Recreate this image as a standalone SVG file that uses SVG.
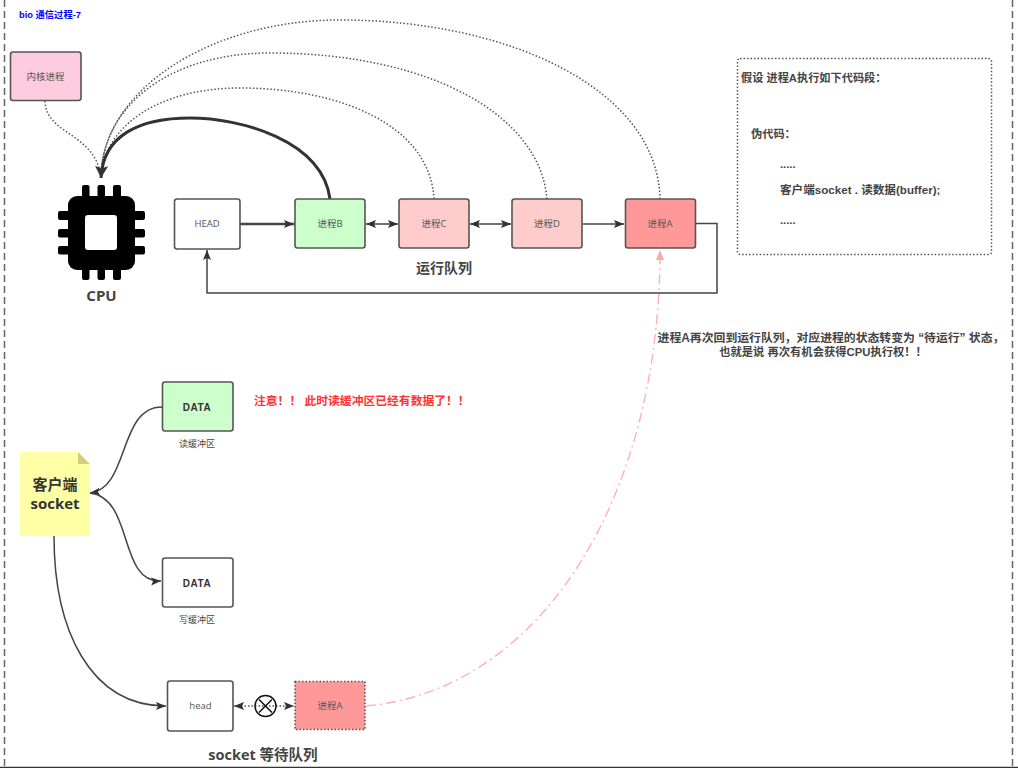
<svg xmlns="http://www.w3.org/2000/svg" width="1018" height="768" viewBox="0 0 1018 768">
<style>
  text { font-family: "Liberation Sans", "Noto Sans CJK SC", sans-serif; fill: #333; }
  .box { stroke: #555; stroke-width: 1.6; }
  .lbl { font-family: "Open Sans", "Noto Sans CJK SC", sans-serif; font-size: 9.5px; text-anchor: middle; fill: #555; }
  .data { font-size: 10px; font-weight: 700; text-anchor: middle; letter-spacing: .5px; }
  .cap { font-size: 9px; text-anchor: middle; fill: #444; }
  .h { font-family: "Open Sans", "Noto Sans CJK SC", sans-serif; font-size: 14px; font-weight: 700; text-anchor: middle; fill: #444; }
  .code { font-size: 11.2px; font-weight: 700; fill: #444; }
  .note { font-weight: 700; fill: #444; text-anchor: middle; }
  .line { fill: none; stroke: #444; stroke-width: 1.5; }
  .dot { fill: none; stroke: #555; stroke-width: 1.5; stroke-dasharray: 1.5 2; }
</style>
<defs>
  <marker id="tip" markerUnits="userSpaceOnUse" markerWidth="12" markerHeight="10" refX="10" refY="4" orient="auto-start-reverse"><path d="M0 0L10 4L0 8L2 4z" fill="#333"/></marker>
  <marker id="tipBig" markerUnits="userSpaceOnUse" markerWidth="14" markerHeight="14" refX="12" refY="6.5" orient="auto"><path d="M0 0L12 6.5L0 13L2.5 6.5z" fill="#333"/></marker>
  <marker id="tipPink" markerUnits="userSpaceOnUse" markerWidth="12" markerHeight="12" refX="10" refY="4" orient="auto"><path d="M0 0L10 4L0 8z" fill="#ffa8a8"/></marker>
</defs>
<rect width="1018" height="768" fill="#fff"/>

<g id="frame" fill="none" stroke="#666" stroke-width="1.5">
  <path d="M4.5 0V768" stroke-dasharray="7 4"/>
  <path d="M1012.5 0V768" stroke-dasharray="7 4"/>
  <path d="M0 767.5H1018" stroke="#333"/>
</g>

<text x="19" y="18" style="font-size:9.3px;font-weight:700;fill:#0000ff">bio 通信过程-7</text>

<g id="connectors">
  <path class="dot" d="M45 101C46 135 94 132 101 176"/>
  <path class="dot" d="M434 199C430 125 340 88 240 88C160 88 105 125 101 176"/>
  <path class="dot" d="M547 199C540 115 430 53 270 53C170 53 103 105 101 176"/>
  <path class="dot" d="M660 199C658 90 510 20 340 20C210 20 103 90 101 176"/>
  <path fill="none" stroke="#333" stroke-width="3" marker-end="url(#tipBig)" d="M330 199C322 140 240 118 190 118C140 118 103 135 101 178"/>
  <path class="line" style="stroke-width:2.4" marker-end="url(#tip)" d="M240 224H294"/>
  <path class="line" marker-start="url(#tip)" marker-end="url(#tip)" d="M366 224H398"/>
  <path class="line" marker-start="url(#tip)" marker-end="url(#tip)" d="M470 224H511"/>
  <path class="line" marker-end="url(#tip)" d="M583 224H624"/>
  <path class="line" marker-end="url(#tip)" d="M696 223.500H717V293H207V250"/>
  <path fill="none" stroke="#ffb0b0" stroke-width="1.4" stroke-dasharray="10 4 2 4" marker-end="url(#tipPink)" d="M366 706C540 690 660 500 660 250"/>
  <path class="line" marker-end="url(#tip)" d="M162 407C118 407 130 488 90 493"/>
  <path class="line" marker-end="url(#tip)" d="M90 493C134 498 118 583 161 581"/>
  <path class="line" marker-end="url(#tip)" d="M54 536C54 630 90 706 166 706"/>
  <path class="dot" marker-start="url(#tip)" marker-end="url(#tip)" d="M234 706H294"/>
</g>

<g id="kernel"><rect class="box" x="10.500" y="52" width="70.500" height="48.500" rx="2.500" fill="#ffccdf"/><text class="lbl" x="45.500" y="80">内核进程</text></g>

<g id="cpu" fill="#000">
  <rect x="68" y="196" width="67" height="74" rx="9"/>
  <rect x="82" y="185" width="7.500" height="95" rx="2"/>
  <rect x="97.500" y="185" width="7.500" height="95" rx="2"/>
  <rect x="113" y="185" width="8" height="95" rx="2"/>
  <rect x="58" y="211" width="87" height="9" rx="2"/>
  <rect x="58" y="229" width="87" height="8.500" rx="2"/>
  <rect x="58" y="246" width="87" height="8.500" rx="2"/>
  <rect x="85" y="215" width="32" height="35" rx="3" fill="#fff"/>
</g>
<text class="h" x="101.500" y="301" style="font-size:15px">CPU</text>

<g id="head"><rect class="box" x="174.500" y="199" width="65.500" height="50" rx="2.500" fill="#fff"/><text class="lbl" x="207" y="227">HEAD</text></g>
<g id="procB"><rect class="box" x="295" y="199" width="70" height="49" rx="2.500" fill="#ccffcc"/><text class="lbl" x="330" y="227">进程B</text></g>
<g id="procC"><rect class="box" x="399" y="199" width="70" height="49" rx="2.500" fill="#ffcccc"/><text class="lbl" x="434" y="227">进程C</text></g>
<g id="procD"><rect class="box" x="512" y="199" width="70" height="49" rx="2.500" fill="#ffcccc"/><text class="lbl" x="547" y="227">进程D</text></g>
<g id="procA"><rect class="box" x="625.500" y="199" width="70" height="49" rx="2.500" fill="#ff9999"/><text class="lbl" x="660" y="227">进程A</text></g>
<text class="h" x="444" y="273">运行队列</text>

<g id="code">
  <rect x="737.500" y="58.500" width="254" height="196" rx="2.500" fill="#fff" stroke="#555" stroke-width="1.500" stroke-dasharray="1.500 2"/>
  <text class="code" x="741" y="82">假设 进程A执行如下代码段：</text>
  <text class="code" x="751" y="138">伪代码：</text>
  <text class="code" x="780" y="168">.....</text>
  <text class="code" x="780" y="194" style="font-size:11.600px">客户端socket . 读数据(buffer);</text>
  <text class="code" x="780" y="224">.....</text>
</g>

<text class="note" x="831" y="342" style="font-size:11.850px">进程A再次回到运行队列，对应进程的状态转变为 “待运行” 状态，</text>
<text class="note" x="823" y="356" style="font-size:11.300px">也就是说 再次有机会获得CPU执行权！！</text>

<g id="readBuf"><rect class="box" x="162.500" y="382" width="70.500" height="49" rx="2.500" fill="#ccffcc"/><text class="data" x="197" y="410.500">DATA</text></g>
<text class="cap" x="197" y="447">读缓冲区</text>
<text x="254" y="405" style="font-size:11.800px;font-weight:700;fill:#ff3333">注意！！ 此时读缓冲区已经有数据了！！</text>

<g id="writeBuf"><rect class="box" x="162.500" y="558" width="70.500" height="49" rx="2.500" fill="#fff"/><text class="data" x="197" y="586.500">DATA</text></g>
<text class="cap" x="197" y="623">写缓冲区</text>

<g id="socket">
  <path d="M20 452H78L90 464V536H20z" fill="#ffffa6"/>
  <path d="M78 452L90 464H78z" fill="#cfcf7a"/>
  <text class="h" x="55" y="490" style="font-size:15px;fill:#333">客户端</text>
  <text class="h" x="55" y="509" style="font-size:15px;fill:#333">socket</text>
</g>

<g id="waitHead"><rect class="box" x="167.500" y="681" width="65.500" height="50" rx="2.500" fill="#fff"/><text class="lbl" x="200.500" y="709">head</text></g>
<g id="blocked"><circle cx="265.500" cy="706" r="10.500" fill="none" stroke="#111" stroke-width="1.500"/><path d="M259 699.500L272 712.500M272 699.500L259 712.500" stroke="#111" stroke-width="1.500"/></g>
<g id="waitA"><rect x="295" y="681.500" width="70" height="48" fill="#ff9999" stroke="#555" stroke-width="1.500" stroke-dasharray="1.500 2"/><text class="lbl" x="330" y="709">进程A</text></g>
<text class="h" x="263" y="760" style="font-size:14.500px">socket 等待队列</text>
</svg>
